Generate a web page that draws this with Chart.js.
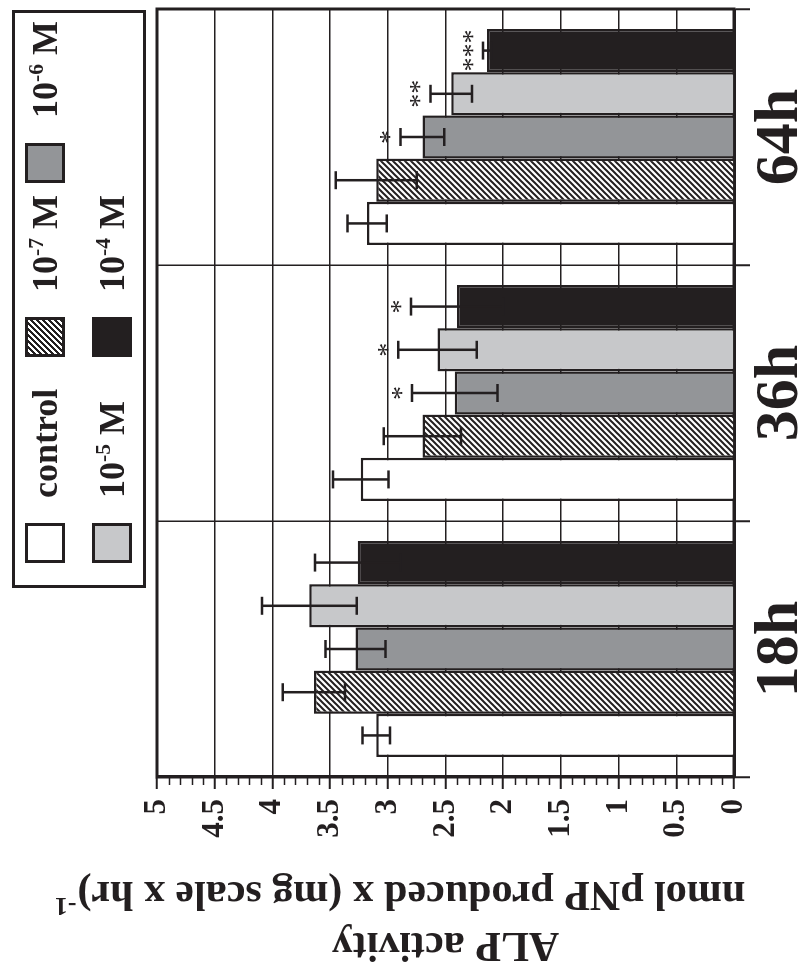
<!DOCTYPE html>
<html>
<head>
<meta charset="utf-8">
<script src="https://cdn.jsdelivr.net/npm/chart.js@4.4.1/dist/chart.umd.min.js"></script>
<style>
  html, body { margin: 0; padding: 0; background: #fff; overflow: hidden; }
  /* the figure is drawn upright and then turned a quarter turn, like the scan */
  #wrap {
    position: absolute; left: 0; top: 0; width: 974px; height: 804px;
    transform-origin: 0 0; transform: translateY(974px) rotate(-90deg);
  }
  #chart { position: absolute; left: 0; top: 0; }
  #legend {
    position: absolute; left: 386px; top: 12px; width: 578px; height: 134px;
    box-sizing: border-box; border: 3px solid #231f20; background: #fff;
    display: grid; grid-template-columns: 206px 174px auto; grid-auto-rows: 40px; row-gap: 27px;
    padding: 10px 0 0 22px;
    font: bold 36px "Liberation Serif", serif; color: #231f20;
  }
  .item { display: flex; align-items: center; height: 40px; white-space: nowrap; }
  .sw { width: 40px; height: 40px; box-sizing: border-box; border: 3px solid #231f20; margin-right: 25px; flex: none; }
  .item sup { font-size: 0.6em; line-height: 0; vertical-align: 0.65em; }
</style>
</head>
<body>
<div id="wrap">
  <canvas id="chart" width="974" height="804"></canvas>
  <div id="legend"></div>
</div>
<script>
const ink = '#231f20';

const categories = ['18h', '36h', '64h'];
const seriesNames = ['control', '10-7 M', '10-6 M', '10-5 M', '10-4 M'];

// ALP activity, nmol pNP / (mg scale x hr)
const control = [3.10, 3.235, 3.18];
const m7 = [3.64, 2.70, 3.10];
const m6 = [3.28, 2.42, 2.70];
const m5 = [3.68, 2.57, 2.45];
const m4 = [3.26, 2.40, 2.14];

// error bars (+/-)
const controlErr = [0.12, 0.24, 0.17];
const m7Err = [0.27, 0.335, 0.35];
const m6Err = [0.26, 0.37, 0.19];
const m5Err = [0.41, 0.34, 0.18];
const m4Err = [0.37, 0.40, 0.035];

// significance marks
const controlSig = ['', '', ''];
const m7Sig = ['', '', ''];
const m6Sig = ['', '*', '*'];
const m5Sig = ['', '*', '**'];
const m4Sig = ['', '*', '***'];

const yTitleLines = ['ALP activity', 'nmol pNP produced x (mg scale x hr)'];
const yTitleSup = '-1';

const ctx = document.getElementById('chart').getContext('2d');

function makeHatch() {
    const c = document.createElement('canvas');
    c.width = 6; c.height = 6;
    const g = c.getContext('2d');
    g.fillStyle = '#fff';
    g.fillRect(0, 0, 6, 6);
    g.strokeStyle = ink;
    g.lineWidth = 2;
    g.beginPath();
    g.moveTo(0, 6); g.lineTo(6, 0);
    g.moveTo(-3, 3); g.lineTo(3, -3);
    g.moveTo(3, 9); g.lineTo(9, 3);
    g.stroke();
    return ctx.createPattern(c, 'repeat');
}

const fills = ['#ffffff', makeHatch(), '#939598', '#c7c8ca', ink];
const cssFills = ['#ffffff', 'repeating-linear-gradient(135deg, #231f20 0 1.5px, #fff 1.5px 4.24px)', '#939598', '#c7c8ca', ink];
const values = [control, m7, m6, m5, m4];
const errors = [controlErr, m7Err, m6Err, m5Err, m4Err];
const marks = [controlSig, m7Sig, m6Sig, m5Sig, m4Sig];

// Legend (html, sits inside the turned box)
const legend = document.getElementById('legend');
seriesNames.forEach((name, i) => {
    const item = document.createElement('div');
    item.className = 'item';
    const sw = document.createElement('span');
    sw.className = 'sw';
    sw.style.background = cssFills[i];
    const txt = document.createElement('span');
    txt.innerHTML = name.replace(/^10(-\d+) M$/, '10<sup>$1</sup> M');
    item.appendChild(sw);
    item.appendChild(txt);
    legend.appendChild(item);
});

const frame = {
    id: 'frame',
    beforeDatasetsDraw(chart) {
        const a = chart.chartArea;
        const c = chart.ctx;
        c.save();
        c.strokeStyle = ink;
        c.lineWidth = 3;
        c.strokeRect(a.left, a.top, a.right - a.left, a.bottom - a.top);
        c.restore();
    }
};

const minorTicks = {
    id: 'minorTicks',
    afterDraw(chart) {
        const y = chart.scales.y;
        const c = chart.ctx;
        const left = chart.chartArea.left;
        c.save();
        c.strokeStyle = ink;
        c.lineWidth = 1.5;
        c.beginPath();
        for (let k = 1; k < 50; k++) {
            if (k % 5 === 0) continue;
            const py = Math.round(y.getPixelForValue(k / 10)) + 0.5;
            c.moveTo(left, py);
            c.lineTo(left - 8, py);
        }
        c.stroke();
        c.restore();
    }
};

const errorBars = {
    id: 'errorBars',
    afterDatasetsDraw(chart) {
        const y = chart.scales.y;
        const c = chart.ctx;
        c.save();
        c.strokeStyle = ink;
        c.lineWidth = 2.5;
        values.forEach((vals, i) => {
            const meta = chart.getDatasetMeta(i);
            meta.data.forEach((bar, j) => {
                const top = y.getPixelForValue(vals[j] + errors[i][j]);
                const bot = y.getPixelForValue(vals[j] - errors[i][j]);
                c.beginPath();
                c.moveTo(bar.x, top); c.lineTo(bar.x, bot);
                c.moveTo(bar.x - 9, top); c.lineTo(bar.x + 9, top);
                c.moveTo(bar.x - 9, bot); c.lineTo(bar.x + 9, bot);
                c.stroke();
            });
        });
        c.restore();
    }
};

const stars = {
    id: 'stars',
    afterDatasetsDraw(chart) {
        const y = chart.scales.y;
        const c = chart.ctx;
        c.save();
        c.fillStyle = ink;
        c.font = '28px "Liberation Serif", serif';
        c.textAlign = 'center';
        c.textBaseline = 'alphabetic';
        marks.forEach((m, i) => {
            const meta = chart.getDatasetMeta(i);
            meta.data.forEach((bar, j) => {
                if (!m[j]) return;
                const top = y.getPixelForValue(values[i][j] + errors[i][j]);
                c.fillText(m[j], bar.x, top - 2);
            });
        });
        c.restore();
    }
};

const yTitle = {
    id: 'yTitle',
    afterDraw(chart) {
        const a = chart.chartArea;
        const c = chart.ctx;
        const cy = (a.top + a.bottom) / 2;
        c.save();
        c.fillStyle = ink;
        c.textBaseline = 'alphabetic';

        c.save();
        c.font = 'bold 42px "Liberation Serif", serif';
        c.translate(41, cy);
        c.rotate(-Math.PI / 2);
        c.textAlign = 'center';
        c.fillText(yTitleLines[0], 0, 0);
        c.restore();

        c.save();
        c.translate(92, cy - 45);
        c.rotate(-Math.PI / 2);
        c.textAlign = 'left';
        c.font = 'bold 42px "Liberation Serif", serif';
        const w1 = c.measureText(yTitleLines[1]).width;
        c.font = 'bold 26px "Liberation Serif", serif';
        const w2 = c.measureText(yTitleSup).width;
        const x0 = -(w1 + w2) / 2;
        c.font = 'bold 42px "Liberation Serif", serif';
        c.fillText(yTitleLines[1], x0, 0);
        c.font = 'bold 26px "Liberation Serif", serif';
        c.fillText(yTitleSup, x0 + w1 + 1, -16);
        c.restore();

        c.restore();
    }
};

new Chart(ctx, {
    type: 'bar',
    data: {
        labels: categories,
        datasets: seriesNames.map((name, i) => ({
            label: name,
            data: values[i],
            backgroundColor: fills[i],
            borderColor: ink,
            borderWidth: 2.5,
            borderSkipped: 'start',
            categoryPercentage: 0.844,
            barPercentage: 1
        }))
    },
    options: {
        responsive: false,
        animation: false,
        devicePixelRatio: 1,
        layout: { padding: { top: 157, right: 9, bottom: 0, left: 0 } },
        plugins: {
            legend: { display: false },
            tooltip: { enabled: false }
        },
        scales: {
            x: {
                offset: true,
                grid: { offset: true, color: ink, lineWidth: 1.5, tickLength: 16, tickWidth: 2 },
                border: { color: ink, width: 3 },
                ticks: {
                    color: ink,
                    padding: 0,
                    font: { family: '"Liberation Serif", serif', size: 62, weight: 'bold', lineHeight: 1 }
                },
                afterFit: s => { s.height = 70; }
            },
            y: {
                min: 0,
                max: 5,
                ticks: {
                    stepSize: 0.5,
                    padding: 10,
                    color: ink,
                    font: { family: '"Liberation Serif", serif', size: 31, weight: 'bold' },
                    callback: v => String(Math.round(v * 10) / 10)
                },
                grid: { color: ink, lineWidth: 1.5, tickLength: 12, tickWidth: 2 },
                border: { color: ink, width: 3 },
                afterFit: s => { s.width = 197; }
            }
        }
    },
    plugins: [frame, errorBars, stars, yTitle, minorTicks]
});
</script>
</body>
</html>
